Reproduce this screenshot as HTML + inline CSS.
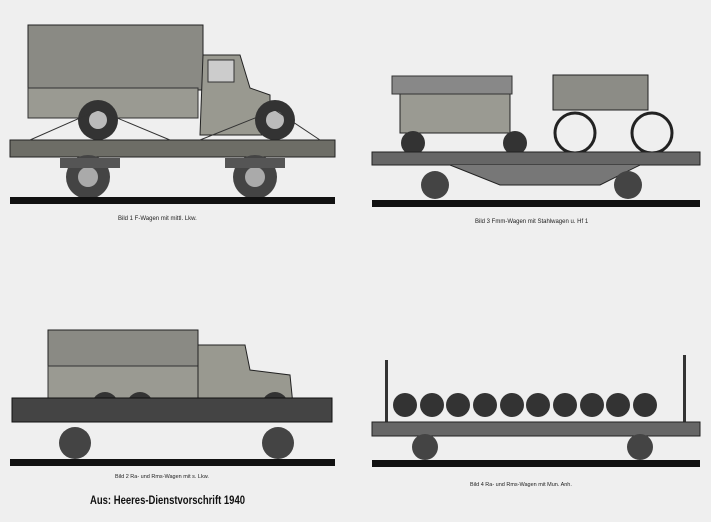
<!DOCTYPE html>
<html><head><style>
html,body{margin:0;padding:0;background:#efefef;}
svg{display:block}
text{font-family:"Liberation Sans",sans-serif;fill:#222}
</style></head><body>
<svg width="711" height="522" viewBox="0 0 711 522" xmlns="http://www.w3.org/2000/svg">
<rect width="711" height="522" fill="#efefef"/>
<!-- Panel 1 -->
<g>
<rect x="28" y="25" width="175" height="65" fill="#8a8a84" stroke="#222"/>
<rect x="28" y="88" width="170" height="30" fill="#9a9a92" stroke="#333"/>
<path d="M203 55 L240 55 L250 88 L270 95 L270 135 L200 135 Z" fill="#999990" stroke="#222"/>
<rect x="208" y="60" width="26" height="22" fill="#ccc" stroke="#333"/>
<circle cx="98" cy="120" r="20" fill="#333"/><circle cx="98" cy="120" r="9" fill="#bbb"/>
<circle cx="275" cy="120" r="20" fill="#333"/><circle cx="275" cy="120" r="9" fill="#bbb"/>
<rect x="10" y="140" width="325" height="17" fill="#6d6d66" stroke="#222"/>
<path d="M30 140 L98 110 L170 140 M200 140 L275 110 L320 140" stroke="#333" fill="none"/>
<circle cx="88" cy="177" r="22" fill="#444"/><circle cx="88" cy="177" r="10" fill="#aaa"/>
<circle cx="255" cy="177" r="22" fill="#444"/><circle cx="255" cy="177" r="10" fill="#aaa"/>
<rect x="60" y="158" width="60" height="10" fill="#555"/><rect x="225" y="158" width="60" height="10" fill="#555"/>
<rect x="10" y="197" width="325" height="7" fill="#111"/>
<text x="118" y="220" font-size="6">Bild 1  F-Wagen mit mittl. Lkw.</text>
</g>
<!-- Panel 2 -->
<g>
<rect x="400" y="88" width="110" height="45" fill="#9a9a92" stroke="#222"/>
<rect x="392" y="76" width="120" height="18" fill="#888" stroke="#333"/>
<rect x="553" y="75" width="95" height="35" fill="#8c8c86" stroke="#222"/>
<circle cx="413" cy="143" r="12" fill="#333"/><circle cx="515" cy="143" r="12" fill="#333"/>
<circle cx="575" cy="133" r="20" fill="none" stroke="#222" stroke-width="3"/>
<circle cx="652" cy="133" r="20" fill="none" stroke="#222" stroke-width="3"/>
<rect x="372" y="152" width="328" height="13" fill="#666" stroke="#222"/>
<path d="M450 165 L500 185 L600 185 L640 165" fill="#777" stroke="#222"/>
<circle cx="435" cy="185" r="14" fill="#444"/><circle cx="628" cy="185" r="14" fill="#444"/>
<rect x="372" y="200" width="328" height="7" fill="#111"/>
<text x="475" y="223" font-size="6">Bild 3 Fmm-Wagen mit Stahlwagen u. Hf 1</text>
</g>
<!-- Panel 3 -->
<g>
<rect x="48" y="330" width="150" height="38" fill="#8a8a84" stroke="#222"/>
<rect x="48" y="366" width="150" height="32" fill="#9a9a92" stroke="#333"/>
<path d="M198 345 L245 345 L250 370 L290 375 L293 405 L198 405 Z" fill="#999990" stroke="#222"/>
<circle cx="105" cy="405" r="13" fill="#333"/><circle cx="140" cy="405" r="13" fill="#333"/><circle cx="275" cy="405" r="13" fill="#333"/>
<rect x="12" y="398" width="320" height="24" fill="#444" stroke="#111"/>
<circle cx="75" cy="443" r="16" fill="#444"/><circle cx="278" cy="443" r="16" fill="#444"/>
<rect x="10" y="459" width="325" height="7" fill="#111"/>
<text x="115" y="478" font-size="5.5">Bild 2  Ra- und Rms-Wagen mit s. Lkw.</text>
<text x="90" y="504" font-size="12" font-weight="bold" textLength="155" lengthAdjust="spacingAndGlyphs" style="fill:#111">Aus: Heeres-Dienstvorschrift 1940</text>
</g>
<!-- Panel 4 -->
<g>
<g fill="#333">
<circle cx="405" cy="405" r="12"/><circle cx="432" cy="405" r="12"/><circle cx="458" cy="405" r="12"/>
<circle cx="485" cy="405" r="12"/><circle cx="512" cy="405" r="12"/><circle cx="538" cy="405" r="12"/>
<circle cx="565" cy="405" r="12"/><circle cx="592" cy="405" r="12"/><circle cx="618" cy="405" r="12"/><circle cx="645" cy="405" r="12"/>
</g>
<rect x="385" y="360" width="3" height="65" fill="#333"/><rect x="683" y="355" width="3" height="70" fill="#333"/>
<rect x="372" y="422" width="328" height="14" fill="#666" stroke="#222"/>
<circle cx="425" cy="447" r="13" fill="#444"/><circle cx="640" cy="447" r="13" fill="#444"/>
<rect x="372" y="460" width="328" height="7" fill="#111"/>
<text x="470" y="486" font-size="5.5">Bild 4  Ra- und Rms-Wagen mit Mun. Anh.</text>
</g>
</svg>
</body></html>
